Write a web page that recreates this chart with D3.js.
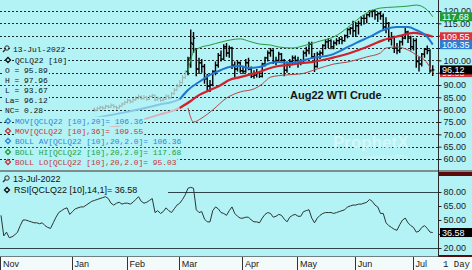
<!DOCTYPE html>
<html>
<head>
<meta charset="utf-8">
<script src="https://cdn.jsdelivr.net/npm/d3@7"></script>
<style>
body{margin:0;background:#fff;}
svg{display:block;}
</style>
</head>
<body>
<script>
var width = 472, height = 270;
var bg = "#b3f2f5";

// month labels and the bar index where each month starts
var months = ["Nov","Jan","Feb","Mar","Apr","May","Jun","Jul"];
var monthStart = [0, 26, 46, 65, 88, 108, 129, 150];
var lastIdx = 157;

// daily bars, first one is bar index 34 (older bars are hidden)
var firstIdx = 34;
var lightUntil = 67; // bars before March are drawn grey
var opens = [80.2,79.8,80.5,81.0,80.6,81.4,81.0,81.8,81.2,80.7,81.5,82.3,83.0,83.8,83.2,84.0,84.6,85.3,84.5,85.0,84.2,85.4,85.8,84.0,84.6,83.8,84.2,85.5,84.8,86.5,88.0,89.5,91.0,93.0,
  95.5,101.0,106.5,104.5,96.5,99.0,97.5,92.5,89.5,90.0,95.5,98.0,102.0,100.5,105.5,103.0,105.0,98.0,96.5,99.0,
  95.8,95.5,99.0,96.5,93.5,94.0,95.0,93.5,98.5,101.0,103.0,104.0,99.5,100.0,102.5,100.0,96.0,98.5,99.5,101.0,
  100.0,99.5,99.0,103.0,104.0,106.5,101.5,97.5,102.5,103.0,106.0,107.5,108.0,105.5,107.0,108.0,108.5,108.0,110.0,112.5,113.0,
  112.0,114.0,115.0,117.0,117.0,118.5,119.8,120.0,118.5,119.0,118.0,113.5,115.0,108.5,109.5,105.0,104.0,107.5,109.0,111.5,109.0,
  105.5,108.0,99.5,98.5,102.5,104.5,104.0,95.89];
var highs = [80.8,81.2,81.7,81.5,82.0,81.9,82.5,82.2,81.6,82.0,83.0,83.6,84.5,84.2,84.7,85.4,86.2,85.8,85.9,85.4,85.9,86.5,86.1,85.3,85.0,85.0,86.2,86.0,87.2,88.8,90.5,92.0,94.0,96.0,
  101.5,112.5,111.5,105.0,101.0,100.5,98.5,94.5,92.0,96.0,99.5,103.0,104.0,106.5,107.0,106.0,105.5,99.5,100.0,99.5,
  97.5,100.5,101.0,97.5,96.0,96.5,95.5,99.0,101.5,104.0,105.0,104.5,101.5,103.5,103.0,100.5,99.5,100.5,102.0,102.0,
  101.5,100.5,104.0,105.5,107.5,107.5,103.0,103.5,104.0,106.5,108.5,109.0,108.5,108.0,109.0,109.5,109.5,110.5,113.0,113.5,116.0,
  115.5,116.0,118.0,118.5,119.0,120.3,120.5,120.5,119.5,120.0,119.0,117.5,115.5,111.5,110.0,107.0,108.0,110.5,113.5,112.0,110.0,
  109.0,109.0,101.5,103.0,105.0,106.0,104.5,97.96];
var lows = [79.1,79.4,80.0,79.9,80.3,80.5,80.8,80.6,79.9,80.3,81.2,81.9,82.6,82.5,82.9,83.6,84.2,83.9,84.1,83.5,83.9,85.0,83.4,83.6,83.2,83.4,83.9,84.2,84.5,86.0,87.5,89.0,90.5,92.5,
  94.0,97.0,103.0,93.5,94.5,95.0,90.5,87.5,87.2,89.5,94.0,97.0,99.5,100.0,101.5,101.0,96.5,93.0,95.5,95.0,
  94.5,95.0,96.0,92.8,92.5,93.0,92.8,93.0,97.5,99.5,101.5,98.5,98.0,99.0,99.5,93.5,95.0,97.0,98.0,98.5,
  97.0,98.0,98.5,101.5,102.5,100.5,95.3,97.0,100.5,102.0,104.5,105.0,104.5,104.5,106.0,106.5,106.5,107.5,109.0,110.5,109.5,
  109.5,110.5,114.0,114.5,115.0,117.5,117.5,116.5,115.5,116.5,112.5,111.0,107.5,106.0,103.0,102.5,103.0,106.0,108.5,107.0,104.0,
  104.0,97.0,95.5,97.5,101.0,102.5,95.0,93.67];
var closes = [79.8,80.5,81.0,80.6,81.4,81.0,81.8,81.2,80.7,81.5,82.3,83.0,83.8,83.2,84.0,84.6,85.3,84.5,85.0,84.2,85.4,85.8,84.0,84.6,83.8,84.2,85.5,84.8,86.5,88.0,89.5,91.0,93.0,95.5,
  100.5,107.0,109.0,96.5,99.0,97.5,92.5,89.5,90.0,95.5,98.0,102.0,100.5,105.5,103.0,105.0,98.0,96.5,99.0,95.8,
  95.5,99.0,96.5,93.5,94.0,95.0,93.5,98.5,101.0,103.0,104.0,99.5,100.0,102.5,100.0,96.0,98.5,99.5,101.0,100.0,
  99.5,99.0,103.0,104.0,106.5,101.5,97.5,102.5,103.0,106.0,107.5,108.0,105.5,107.0,108.0,108.5,108.0,110.0,112.5,113.0,112.0,
  114.0,115.0,117.0,117.0,118.5,119.8,120.0,118.5,119.0,118.0,113.5,115.0,108.5,109.5,105.0,104.0,107.5,109.0,111.5,109.0,105.5,
  108.0,99.5,98.5,102.5,104.5,104.0,95.84,96.12];

// indicator lines: [bar index, value]
var ma20 = [[34,76.6],[44,78.7],[57,81.9],[65,84.3],[68,88.0],[72,91.2],[76,94.1],[80,96.1],[83,97.3],[87,97.7],[90,96.9],[94,97.3],[98,98.9],[101,99.3],[105,98.9],[109,99.7],[113,100.9],[120,102.2],[124,104.2],[129,107.0],[134,109.5],[139,112.3],[144,113.5],[148,113.5],[151,112.3],[155,109.5],[157,106.36]];
var ma36 = [[34,71.5],[44,73.8],[57,77.8],[65,80.7],[69,83.5],[72,85.9],[76,88.0],[80,90.0],[83,92.0],[87,93.2],[90,94.1],[94,95.3],[98,96.9],[101,97.7],[105,98.1],[109,98.9],[113,99.3],[120,100.9],[127,103.0],[133,105.4],[139,108.2],[145,109.9],[150,111.1],[153,110.7],[157,109.55]];
var bollHi = [[68,95.3],[70,103.4],[72,105.0],[76,106.2],[80,107.4],[87,108.7],[90,107.8],[94,106.6],[98,106.2],[101,105.4],[106,105.0],[111,106.2],[116,107.8],[121,109.5],[124,111.5],[128,115.1],[133,119.2],[138,121.2],[143,121.6],[148,122.0],[151,122.4],[155,120.4],[157,117.68]];
var bollLo = [[68,80.7],[70,75.0],[73,76.6],[77,79.9],[82,84.7],[87,87.2],[92,88.4],[95,90.4],[98,93.2],[104,94.1],[109,94.5],[115,96.5],[121,98.5],[126,99.3],[133,101.4],[138,103.0],[140,105.0],[144,105.4],[148,104.2],[151,102.2],[155,98.9],[157,95.03]];

// RSI(14), one value per bar from index 0
var rsi = [55,33,37,31,32,34,37,44,50,50,49,48,47,47,46,47,44,42,41,47,
  53,58,60,62,63,56,59,62,63,64,64,66,68,70,71,72,73,74,75,73,
  68,66,68,69,67,68,68,67,69,72,75,70,68,69,71,73,58,60,57,59,
  63,60,58,62,66,68,72,77,84,85,84,61,58,59,51,48,48,60,64,62,
  58,57,55,60,64,57,54,52,52,53,53,50,48,48,47,52,56,58,57,53,
  54,56,55,51,48,53,55,56,54,54,59,60,61,52,47,52,55,57,58,58,
  58,57,58,59,60,61,64,65,66,66,67,67,68,69,72,70,66,64,57,57,
  47,44,42,40,39,45,50,52,47,44,42,37,38,42,44,41,37,36.58];

var priceTicks = d3.range(60, 121, 5);
var rsiTicks = [20, 35, 50, 65, 80];
// axis labels that sit under a value tag in the original
var hiddenPrice = [95, 105, 110];
var hiddenRsi = [35];

var plotW = 438;
var svg = d3.select("body").append("svg").attr("width", width).attr("height", height);
svg.append("rect").attr("width", width).attr("height", height).attr("fill", bg);

var x = d3.scaleLinear().domain([0, lastIdx]).range([1, 432.75]);
var y = d3.scaleLinear().domain([60, 120]).range([159, 11]);
var yr = d3.scaleLinear().domain([20, 80]).range([248, 192]);

svg.append("clipPath").attr("id", "mainclip").append("rect").attr("width", plotW).attr("height", 170);
var main = svg.append("g").attr("clip-path", "url(#mainclip)");

// dashed grid
main.selectAll(".grid").data(priceTicks).enter().append("line")
  .attr("x1", 0).attr("x2", plotW)
  .attr("y1", function(d){ return Math.round(y(d)) + 0.5; })
  .attr("y2", function(d){ return Math.round(y(d)) + 0.5; })
  .attr("stroke", "#1e2a2a").attr("stroke-dasharray", "2,2");

// watermark
main.append("text").attr("x", 333).attr("y", 148).text("ProphetX")
  .style("font-family", "Liberation Sans, Arial, sans-serif").style("font-size", "17px").style("font-weight", "bold")
  .attr("fill", "#d3f8fa");
main.append("text").attr("x", 362).attr("y", 159).text("powered by DTN")
  .style("font-family", "Liberation Sans, Arial, sans-serif").style("font-size", "6px")
  .attr("fill", "#d3f8fa");

var bars = d3.range(opens.length).map(function(k){
  return {i: firstIdx + k, o: opens[k], h: highs[k], l: lows[k], c: closes[k]};
});

// moving averages (faded before March)
var line = d3.line().x(function(d){ return x(d[0]); }).y(function(d){ return y(d[1]); }).curve(d3.curveMonotoneX);
function part(arr, a, b){ return arr.filter(function(d){ return d[0] >= a && d[0] <= b; }); }

main.append("path").attr("d", line(part(ma36, 0, 69))).attr("fill", "none").attr("stroke", "#dcb0bb").attr("stroke-width", 2);
main.append("path").attr("d", line(part(ma20, 0, 68))).attr("fill", "none").attr("stroke", "#86c6e8").attr("stroke-width", 2);

main.selectAll(".bar").data(bars).enter().append("path")
  .attr("d", function(d){
    var cx = x(d.i);
    return "M" + cx + "," + y(d.h) + "V" + y(d.l) +
      "M" + (cx - 1.6) + "," + y(d.o) + "H" + cx +
      "M" + cx + "," + y(d.c) + "H" + (cx + 1.6);
  })
  .attr("fill", "none")
  .attr("stroke", function(d){ return d.i <= lightUntil ? "#9fb3af" : "#000"; })
  .attr("stroke-width", function(d){ return d.i <= lightUntil ? 1 : 1.4; });

main.append("path").attr("d", line(bollHi)).attr("fill", "none").attr("stroke", "#279a3c").attr("stroke-width", 1);
main.append("path").attr("d", line(bollLo)).attr("fill", "none").attr("stroke", "#b24848").attr("stroke-width", 1);
main.append("path").attr("d", line(part(ma36, 65, 200))).attr("fill", "none").attr("stroke", "#d2202c").attr("stroke-width", 2.2);
main.append("path").attr("d", line(part(ma20, 65, 200))).attr("fill", "none").attr("stroke", "#1f78cf").attr("stroke-width", 2);

// text with an opaque box behind it
function label(g, tx, ty, txt, color, font, size, weight, fitW){
  var t = g.append("text").attr("x", tx).attr("y", ty).attr("dy", "0.35em")
    .style("font-family", font).style("font-size", size + "px").style("font-weight", weight || "normal")
    .attr("fill", color).text(txt);
  if (fitW) t.attr("textLength", fitW).attr("lengthAdjust", "spacingAndGlyphs");
  var b = t.node().getBBox();
  g.insert("rect", function(){ return t.node(); })
    .attr("x", b.x - 1).attr("y", b.y).attr("width", b.width + 2).attr("height", b.height).attr("fill", bg);
  return t;
}
function diamond(g, cx, cy, color){
  g.append("path").attr("d", "M" + cx + "," + (cy - 2.5) + "L" + (cx + 2.5) + "," + cy + "L" + cx + "," + (cy + 2.5) + "L" + (cx - 2.5) + "," + cy + "Z")
    .attr("fill", bg).attr("stroke", color).attr("stroke-width", 1.3);
}
function magnifier(g, cx, cy){
  g.append("circle").attr("cx", cx + 1).attr("cy", cy - 1).attr("r", 2.2).attr("fill", "none").attr("stroke", "#333").attr("stroke-width", 1);
  g.append("line").attr("x1", cx - 0.6).attr("y1", cy + 0.6).attr("x2", cx - 3).attr("y2", cy + 3).attr("stroke", "#333").attr("stroke-width", 1.4);
}

var mono = "Liberation Mono, Courier New, monospace";
var sans = "Liberation Sans, Arial, sans-serif";

label(main, 290, 95, "Aug22 WTI Crude", "#151515", sans, 11, "bold");

var legendRows = [
  {t:"13-Jul-2022", c:"#111", icon:"mag", x:13},
  {t:"QCLQ22 [10]", c:"#111", icon:"#111", x:15},
  {t:"O = 95.89", c:"#111", x:5},
  {t:"H = 97.96", c:"#111", x:5},
  {t:"L = 93.67", c:"#111", x:5},
  {t:"La= 96.12", c:"#111", x:5},
  {t:"NC= 0.28", c:"#111", x:5},
  {t:"MOV[QCLQ22 [10],20]= 106.36", c:"#2f86d6", icon:"#2f86d6", x:15},
  {t:"MOV[QCLQ22 [10],36]= 109.55", c:"#c8343e", icon:"#c8343e", x:15},
  {t:"BOLL AV[QCLQ22 [10],20,2.0]= 106.36", c:"#2f86d6", icon:"#2f86d6", x:15},
  {t:"BOLL HI[QCLQ22 [10],20,2.0]= 117.68", c:"#23a03c", icon:"#23a03c", x:15},
  {t:"BOLL LO[QCLQ22 [10],20,2.0]= 95.03", c:"#c8343e", icon:"#c8343e", x:15}
];
var legendY = [49, 60, 70, 80, 90, 100, 110, 121, 131, 141, 152, 162];
legendRows.forEach(function(r, k){
  label(main, r.x, legendY[k], r.t, r.c, mono, 8, "normal", r.t.length * 4.75);
  if (r.icon === "mag") magnifier(main, 6, legendY[k]);
  else if (r.icon) diamond(main, 8, legendY[k], r.icon);
});

// RSI panel
var rsiG = svg.append("g");
rsiG.append("line").attr("x1", 168).attr("x2", plotW).attr("y1", Math.round(yr(80)) + 0.5).attr("y2", Math.round(yr(80)) + 0.5)
  .attr("stroke", "#2d4448").attr("stroke-width", 1.2);
rsiG.append("line").attr("x1", 0).attr("x2", plotW).attr("y1", Math.round(yr(20)) + 0.5).attr("y2", Math.round(yr(20)) + 0.5)
  .attr("stroke", "#2d4448").attr("stroke-width", 1.2);
var rsiLine = d3.line().x(function(d, i){ return x(i); }).y(function(d){ return yr(d); });
rsiG.append("path").attr("d", rsiLine(rsi)).attr("fill", "none").attr("stroke", "#2e3434").attr("stroke-width", 1);
label(rsiG, 13, 179, "13-Jul-2022", "#111", sans, 9);
magnifier(rsiG, 6, 179);
label(rsiG, 14, 190, "RSI[QCLQ22 [10],14,1]= 36.58", "#111", sans, 9);
diamond(rsiG, 7, 190, "#111");

// panel separators
svg.append("rect").attr("x", 0).attr("y", 170).attr("width", width).attr("height", 2).attr("fill", "#7d8c8c");
svg.append("rect").attr("x", plotW).attr("y", 172).attr("width", width - plotW).attr("height", 4).attr("fill", "#5a0c0c");
svg.append("rect").attr("x", 0).attr("y", 257).attr("width", width).attr("height", 13).attr("fill", "#f3fafa");
svg.append("line").attr("x1", 0).attr("x2", width).attr("y1", 256.5).attr("y2", 256.5).attr("stroke", "#6f7f80");
svg.append("rect").attr("x", plotW).attr("y", 255).attr("width", width - plotW).attr("height", 2).attr("fill", "#5a0c0c");
svg.append("line").attr("x1", plotW + 0.5).attr("x2", plotW + 0.5).attr("y1", 0).attr("y2", 257).attr("stroke", "#2a2a2a");

// right axes
var yAxis = d3.axisRight(y).tickValues(priceTicks).tickSize(3).tickPadding(2)
  .tickFormat(function(d){ return hiddenPrice.indexOf(d) >= 0 ? "" : d3.format(".2f")(d); });
var ga = svg.append("g").attr("transform", "translate(" + (plotW + 0.5) + ",0)").call(yAxis);
var raxis = d3.axisRight(yr).tickValues(rsiTicks).tickSize(3).tickPadding(2)
  .tickFormat(function(d){ return hiddenRsi.indexOf(d) >= 0 ? "" : d3.format(".2f")(d); });
var gr = svg.append("g").attr("transform", "translate(" + (plotW + 0.5) + ",0)").call(raxis);
[ga, gr].forEach(function(g){
  g.select(".domain").remove();
  g.selectAll("line").attr("stroke", "#222");
  g.selectAll("text").style("font-family", sans).style("font-size", "9px").attr("fill", "#1a1a1a");
});

// value tags
function tag(ty, txt, fill){
  svg.append("rect").attr("x", 440).attr("y", ty - 4.5).attr("width", 32).attr("height", 9).attr("fill", fill);
  svg.append("text").attr("x", 442).attr("y", ty).attr("dy", "0.35em").text(txt)
    .style("font-family", sans).style("font-size", "9px").attr("fill", "#fff");
}
tag(y(117.68), "117.68", "#1e9a3a");
tag(y(109.55), "109.55", "#e0303a");
tag(y(106.35), "106.35", "#2a7fd4");
tag(y(95.03), "95.03", "#e0303a");
tag(y(96.12), "96.12", "#000");
tag(yr(36.58), "36.58", "#000");

// month axis
var mg = svg.append("g");
mg.selectAll(".mt").data(monthStart).enter().append("line")
  .attr("x1", function(d){ return Math.round(x(d)) - 0.5; }).attr("x2", function(d){ return Math.round(x(d)) - 0.5; })
  .attr("y1", 257).attr("y2", 270).attr("stroke", "#333");
mg.selectAll(".ml").data(months).enter().append("text")
  .attr("x", function(d, i){ return x(monthStart[i]) + 2; }).attr("y", 267)
  .text(function(d){ return d; })
  .style("font-family", sans).style("font-size", "9px").attr("fill", "#1a1a1a");
svg.append("text").attr("x", 443).attr("y", 267).text("1 Day")
  .style("font-family", mono).style("font-size", "9px").attr("fill", "#1a1a1a");
</script>
</body>
</html>
